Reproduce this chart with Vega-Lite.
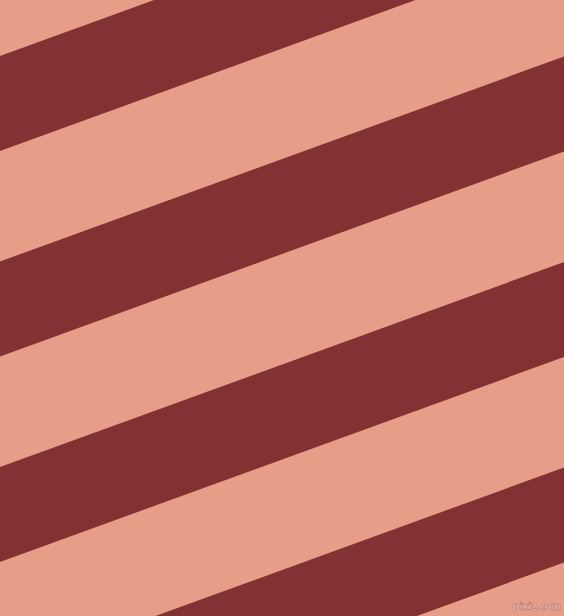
{
  "$schema": "https://vega.github.io/schema/vega-lite/v6.json",
  "width": 564,
  "height": 616,
  "padding": 0,
  "autosize": {"type": "fit", "contains": "padding"},
  "background": "#E79E89",
  "config": {"view": {"stroke": null}},
  "datasets": {
    "stripes": [
      {"stripe": 1, "x": 0, "top": 56, "bottom": 151},
      {"stripe": 1, "x": 564, "top": -149, "bottom": -54},
      {"stripe": 2, "x": 0, "top": 261.5, "bottom": 356.5},
      {"stripe": 2, "x": 564, "top": 56.5, "bottom": 151.5},
      {"stripe": 3, "x": 0, "top": 467, "bottom": 562},
      {"stripe": 3, "x": 564, "top": 262, "bottom": 357},
      {"stripe": 4, "x": 0, "top": 672.5, "bottom": 767.5},
      {"stripe": 4, "x": 564, "top": 467.5, "bottom": 562.5}
    ],
    "mark": [
      {"label": "pixiz.com", "x": 561, "y": 606.5}
    ]
  },
  "layer": [
    {
      "data": {"name": "stripes"},
      "mark": {"type": "area", "orient": "vertical", "clip": true, "color": "#833133", "interpolate": "linear"},
      "encoding": {
        "x": {"field": "x", "type": "quantitative", "scale": {"domain": [0, 564], "nice": false, "zero": false}, "axis": null},
        "y": {"field": "top", "type": "quantitative", "scale": {"domain": [0, 616], "nice": false, "zero": false, "reverse": true}, "axis": null},
        "y2": {"field": "bottom"},
        "detail": {"field": "stripe", "type": "nominal"}
      }
    },
    {
      "data": {"name": "mark"},
      "mark": {"type": "text", "align": "right", "baseline": "middle", "fontSize": 10, "fontWeight": "bold", "font": "DejaVu Sans Condensed", "fill": "#F5CFC3", "stroke": "#B0685C", "strokeWidth": 0.5},
      "encoding": {
        "x": {"field": "x", "type": "quantitative", "axis": null},
        "y": {"field": "y", "type": "quantitative", "axis": null},
        "text": {"field": "label", "type": "nominal"}
      }
    }
  ]
}
